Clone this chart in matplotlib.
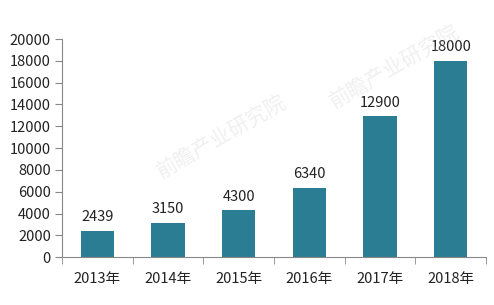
import matplotlib
matplotlib.use("Agg")
import matplotlib.pyplot as plt
import numpy as np

categories = ["2013年", "2014年", "2015年", "2016年", "2017年", "2018年"]
values = [2439, 3150, 4300, 6340, 12900, 18000]
yticks = [0, 2000, 4000, 6000, 8000, 10000, 12000, 14000, 16000, 18000, 20000]

plt.rcParams['font.family'] = ['Noto Sans CJK SC', 'DejaVu Sans']

fig = plt.figure(figsize=(4.94, 3.05), dpi=100)
ax = fig.add_axes([0.1255, 0.157, 0.8585, 0.715])

x = np.arange(len(categories))
bars = ax.bar(x, values, width=0.47, color="#2b7d93", zorder=2)
for xi, v in zip(x, values):
    ax.text(xi, v + 600, f"{v}", ha="center", va="bottom", fontsize=10.5, color="#222222")

ax.set_xlim(-0.5, len(categories) - 0.5)
ax.set_ylim(0, 20000)
ax.set_yticks(yticks)
ax.set_yticklabels([str(t) for t in yticks], fontsize=10.5, color="#222222")
ax.set_xticks(x)
ax.set_xticklabels(categories, fontsize=10.5, color="#222222")
ax.set_xticks(np.arange(-0.5, len(categories)), minor=True)
ax.tick_params(axis="x", which="major", length=0, pad=11)
ax.tick_params(axis="x", which="minor", length=5, color="#888888", direction="out")
ax.tick_params(axis="y", length=5, color="#888888", direction="out", pad=3)

for s in ["top", "right"]:
    ax.spines[s].set_visible(False)
for s in ["left", "bottom"]:
    ax.spines[s].set_color("#888888")
    ax.spines[s].set_linewidth(0.8)

# faint watermarks
for (wx, wy) in [(0.45, 0.55), (0.80, 0.78)]:
    fig.text(wx, wy, "前瞻产业研究院", fontsize=15, color="#cccccc", alpha=0.3,
             rotation=30, ha="center", va="center", zorder=0)

fig.savefig("out.png", dpi=100)
